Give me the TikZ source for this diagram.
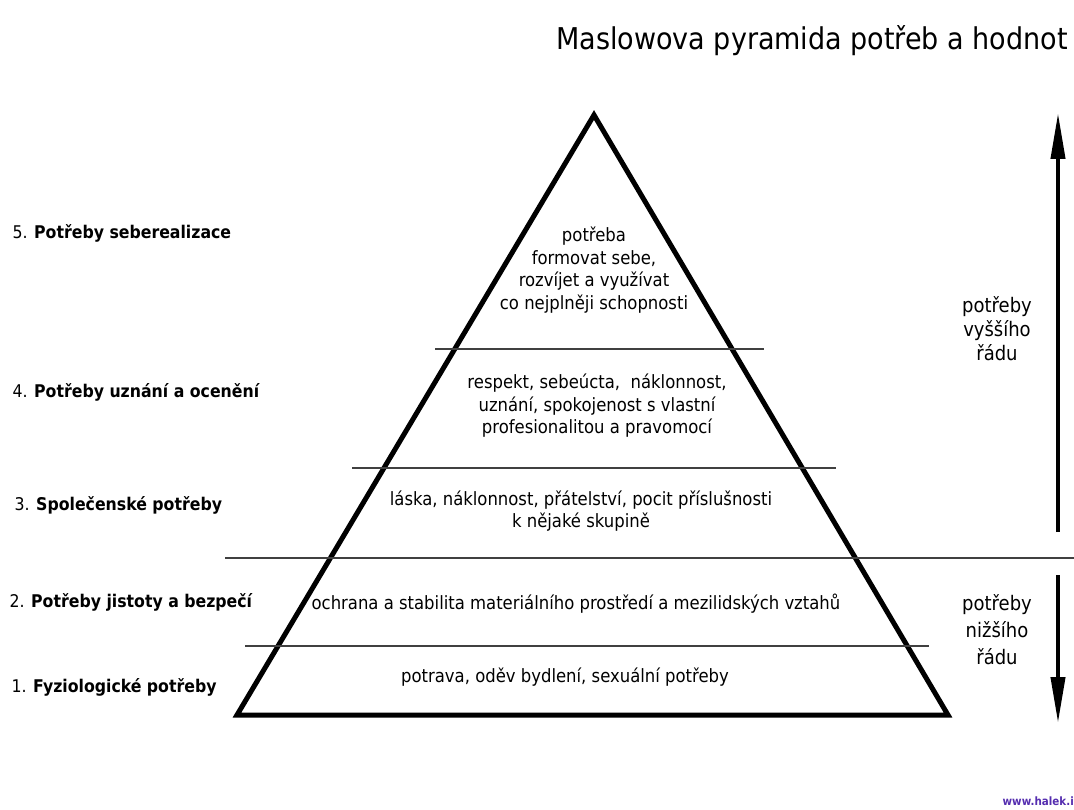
\documentclass[tikz,border=0pt]{standalone}
\usepackage{fontspec}
\setmainfont{DejaVu Sans Condensed}[BoldFont={DejaVu Sans Condensed Bold}]
\definecolor{halekblue}{RGB}{85,45,175}
\usetikzlibrary{positioning}
\usetikzlibrary{arrows.meta}
\tikzset{
  pyramid/.style={draw, line width=5pt, line join=miter},
  level/.style={draw=black!75, line width=1.6pt},
  need/.style={align=center, font=\fontsize{18.3}{22.5}\selectfont},
  stage/.style={anchor=west, font=\fontsize{17.5}{20}\selectfont},
  order/.style={align=center, font=\fontsize{20}{24}\selectfont},
  updown/.style={line width=4pt, -{Triangle[length=46pt,width=14pt]}}
}

\begin{document}
\begin{tikzpicture}[x=1pt, y=-1pt]
  \useasboundingbox (0,0) rectangle (1074,810);

  \node [anchor=base east, inner xsep=0pt, font=\fontsize{30}{36}\selectfont] (title) at (1068,50) {Maslowova pyramida potřeb a hodnot};

  % the pyramid
  \coordinate (apex) at (594,115);
  \coordinate (bl) at (237,715);
  \coordinate (br) at (948,715);
  \draw [pyramid] (bl) -- (apex) -- (br) -- cycle;

  \foreach \n/\y/\xa/\xb in {1/349/435/764, 2/468/352/836, 3/558/225/1074, 4/646/245/929} {
    \coordinate (l\n a) at (\xa,\y);
    \coordinate (l\n b) at (\xb,\y);
    \draw [level] (l\n a) -- (l\n b);
  }

  \node [need] (self) at (594,270) {potřeba\\formovat sebe,\\rozvíjet a využívat\\co nejplněji schopnosti};
  \node [need] (esteem) at (597,406) {respekt, sebeúcta,\ \ náklonnost,\\uznání, spokojenost s vlastní\\profesionalitou a pravomocí};
  \node [need] (social) at (581,511) {láska, náklonnost, přátelství, pocit příslušnosti\\k nějaké skupině};
  \node [need] (safety) at (576,604) {ochrana a stabilita materiálního prostředí a mezilidských vztahů};
  \node [need] (physio) at (565,677) {potrava, oděv bydlení, sexuální potřeby};

  % levels on the left
  \node [stage] (s5) at (9,233) {5. \textbf{Potřeby seberealizace}};
  \node [stage] (s4) at (9,392) {4. \textbf{Potřeby uznání a ocenění}};
  \node [stage] (s3) at (11,505) {3. \textbf{Společenské potřeby}};
  \node [stage] (s2) at (6,602) {2. \textbf{Potřeby jistoty a bezpečí}};
  \node [stage] (s1) at (8,687) {1. \textbf{Fyziologické potřeby}};

  % higher / lower needs
  \node [order] (higher) at (997,329) {potřeby\\vyššího\\řádu};
  \node [order, font=\fontsize{20}{27}\selectfont] (lower) at (997,630) {potřeby\\nižšího\\řádu};
  \coordinate (upfrom) at (1058,532);
  \coordinate (upto) at (1058,113);
  \coordinate (downfrom) at (1058,575);
  \coordinate (downto) at (1058,723);
  \draw [updown] (upfrom) -- (upto);
  \draw [updown] (downfrom) -- (downto);

  \node [anchor=base east, font=\bfseries\fontsize{11.5}{13}\selectfont, text=halekblue, inner xsep=0pt] (www) at (1074,805) {www.halek.i};
\end{tikzpicture}
\end{document}
